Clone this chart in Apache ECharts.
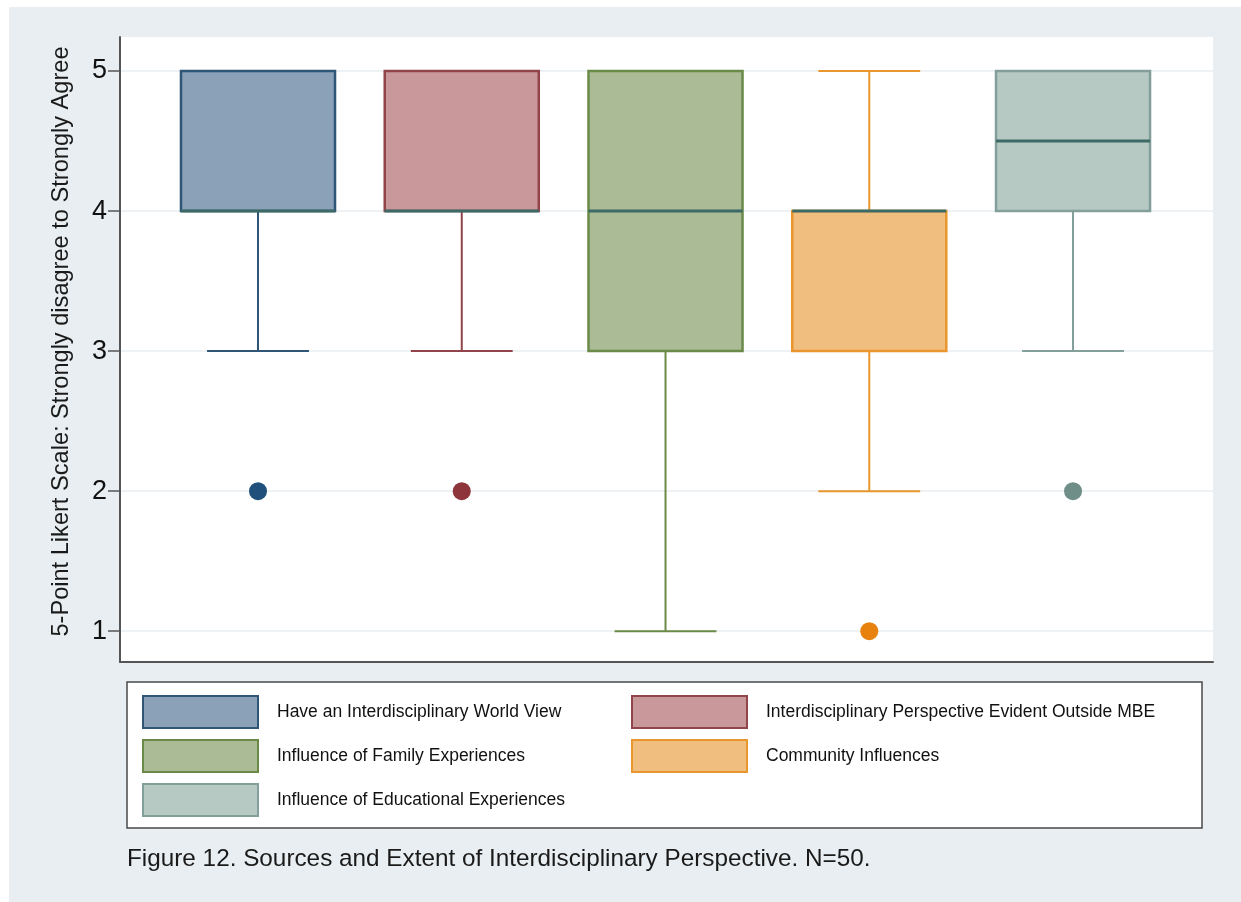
<!DOCTYPE html>
<html>
<head>
<meta charset="utf-8">
<script src="https://cdn.jsdelivr.net/npm/echarts@6/dist/echarts.min.js"></script>
<style>
  html, body { margin: 0; padding: 0; background: #fff; }
  #chart { width: 1241px; height: 902px; }
</style>
</head>
<body>
<div id="chart"></div>
<script>
// box plot summaries (5-point Likert scale)
const groups = [
  'Have an Interdisciplinary World View',
  'Interdisciplinary Perspective Evident Outside MBE',
  'Influence of Family Experiences',
  'Community Influences',
  'Influence of Educational Experiences',
];
const lows = [3, 3, 1, 2, 3];
const q1s = [4, 4, 3, 3, 4];
const medians = [4, 4, 4, 4, 4.5];
const q3s = [5, 5, 5, 4, 5];
const highs = [5, 5, 5, 5, 5];
const outliers = [[2], [2], [], [1], [2]];
const yTicks = [1, 2, 3, 4, 5];

const fills = ['#8aa1b7', '#c8989b', '#aabb95', '#f0be7f', '#b6c9c3'];
const strokes = ['#2f5677', '#91444a', '#6a8a48', '#e9962e', '#82a099'];
const dotColors = ['#1f4f7a', '#8e353b', '#6a8a48', '#e8820f', '#6e8e87'];
const medianColor = '#3c6a66';

const FONT = '"Liberation Sans", Arial, Helvetica, sans-serif';
const BOX_W = 0.756;
const CAP_W = 0.5;

const chart = echarts.init(document.getElementById('chart'));

function renderBox(params, api) {
  const i = params.seriesIndex;
  const x = api.value(0);
  const half = api.size([BOX_W, 0])[0] / 2;
  const capHalf = api.size([CAP_W, 0])[0] / 2;
  const pLow = api.coord([x, api.value(1)]);
  const pQ1 = api.coord([x, api.value(2)]);
  const pMed = api.coord([x, api.value(3)]);
  const pQ3 = api.coord([x, api.value(4)]);
  const pHigh = api.coord([x, api.value(5)]);
  const cx = pQ1[0];
  const lineStyle = { stroke: strokes[i], lineWidth: 2 };
  const children = [
    { type: 'line', shape: { x1: cx, y1: pQ1[1], x2: cx, y2: pLow[1] }, style: lineStyle },
    { type: 'line', shape: { x1: cx - capHalf, y1: pLow[1], x2: cx + capHalf, y2: pLow[1] }, style: lineStyle },
    { type: 'line', shape: { x1: cx, y1: pQ3[1], x2: cx, y2: pHigh[1] }, style: lineStyle },
    { type: 'line', shape: { x1: cx - capHalf, y1: pHigh[1], x2: cx + capHalf, y2: pHigh[1] }, style: lineStyle },
    {
      type: 'rect',
      shape: { x: cx - half, y: pQ3[1], width: half * 2, height: pQ1[1] - pQ3[1] },
      style: { fill: fills[i], stroke: strokes[i], lineWidth: 2.5 },
    },
    {
      type: 'line',
      shape: { x1: cx - half, y1: pMed[1], x2: cx + half, y2: pMed[1] },
      style: { stroke: medianColor, lineWidth: 3 },
    },
  ];
  outliers[i].forEach((v) => {
    const p = api.coord([x, v]);
    children.push({ type: 'circle', shape: { cx: p[0], cy: p[1], r: 9 }, style: { fill: dotColors[i] } });
  });
  return { type: 'group', children };
}

const series = groups.map((name, i) => ({
  name,
  type: 'custom',
  renderItem: renderBox,
  itemStyle: { color: fills[i], borderColor: strokes[i], borderWidth: 2 },
  data: [[i + 1, lows[i], q1s[i], medians[i], q3s[i], highs[i]]],
  animation: false,
}));

function legendItems(idx) {
  return idx.map((i) => ({
    name: groups[i],
    itemStyle: { color: fills[i], borderColor: strokes[i], borderWidth: 2 },
  }));
}

const legendCommon = {
  orient: 'vertical',
  top: 695,
  padding: 0,
  itemGap: 10,
  itemWidth: 115,
  itemHeight: 32,
  icon: 'rect',
  selectedMode: false,
  textStyle: { fontFamily: FONT, fontSize: 17.5, color: '#111', padding: [0, 0, 0, 14] },
};

const option = {
  backgroundColor: '#fff',
  animation: false,
  graphic: [
    { type: 'rect', z: -10, silent: true, shape: { x: 9, y: 7, width: 1232, height: 895 }, style: { fill: '#e8eef1' } },
    {
      type: 'rect', z: -5, silent: true,
      shape: { x: 127, y: 682, width: 1075, height: 146 },
      style: { fill: '#fff', stroke: '#4a4a4a', lineWidth: 1.5 },
    },
  ],
  title: {
    text: 'Figure 12. Sources and Extent of Interdisciplinary Perspective. N=50.',
    left: 122,
    top: 842,
    textStyle: { fontFamily: FONT, fontSize: 24.3, fontWeight: 'normal', color: '#1a1a1a' },
  },
  legend: [
    Object.assign({ left: 142, data: legendItems([0, 2, 4]) }, legendCommon),
    Object.assign({ left: 631, data: legendItems([1, 3]) }, legendCommon),
  ],
  grid: {
    left: 120,
    top: 37,
    width: 1093,
    height: 625,
    show: true,
    backgroundColor: '#fff',
    borderWidth: 0,
  },
  xAxis: {
    type: 'value',
    min: 0.3227,
    max: 5.687,
    axisLine: { show: true, lineStyle: { color: '#555', width: 2 } },
    axisTick: { show: false },
    axisLabel: { show: false },
    splitLine: { show: false },
  },
  yAxis: {
    type: 'value',
    min: 0.78,
    max: 5.243,
    name: '5-Point Likert Scale: Strongly disagree to Strongly Agree',
    nameLocation: 'middle',
    nameGap: 47,
    nameTextStyle: { fontFamily: FONT, fontSize: 23.6, color: '#1a1a1a', padding: [0, 0, 0, 16] },
    axisLine: { show: true, lineStyle: { color: '#555', width: 2 } },
    axisTick: { show: true, length: 12, customValues: yTicks, lineStyle: { color: '#555', width: 1.5 } },
    axisLabel: { customValues: yTicks, margin: 13, fontFamily: FONT, fontSize: 27, color: '#111' },
    splitLine: { show: true, lineStyle: { color: '#e8eef0', width: 1.5 } },
  },
  series,
};

chart.setOption(option);
</script>
</body>
</html>
